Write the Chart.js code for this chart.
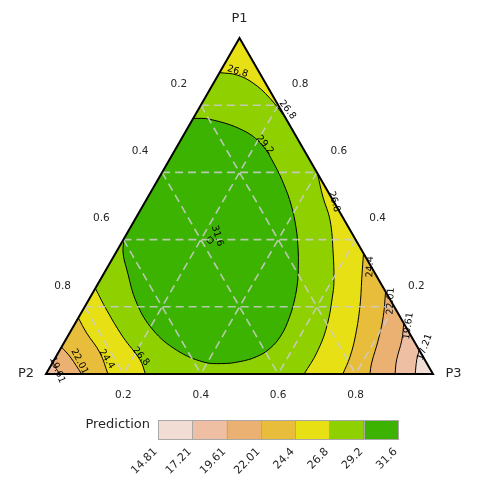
<!DOCTYPE html>
<html>
<head>
<meta charset="utf-8">
<script src="https://cdn.jsdelivr.net/npm/chart.js@4.4.1/dist/chart.umd.min.js"></script>
<style>
html,body{margin:0;padding:0;background:#ffffff;}
#box{position:relative;width:480px;height:480px;}
canvas{display:block;}
</style>
</head>
<body>
<div id="box"><canvas id="chart" width="480" height="480"></canvas></div>
<script>
// ---------------- data ----------------
const componentNames = ['P1', 'P2', 'P3'];
const levels = [14.81, 17.21, 19.61, 22.01, 24.4, 26.8, 29.2, 31.6];
const levelLabels = ['14.81', '17.21', '19.61', '22.01', '24.4', '26.8', '29.2', '31.6'];
const gridValues = [0.2, 0.4, 0.6, 0.8];
const tickLabels = ['0.2', '0.4', '0.6', '0.8'];
const colorbarTitle = 'Prediction';

// contour lines; each point is [P1, P3]  (P2 = 1 - P1 - P3)
const contour31_6 = [[0.409,0.220],[0.399,0.233],[0.389,0.229],[0.399,0.216],[0.409,0.220]];
const contour29_2 = [[0.761,0],[0.758,0.045],[0.725,0.147],[0.682,0.217],[0.625,0.277],[0.5625,0.334],[0.503,0.382],[0.4345,0.429],[0.369,0.467],[0.324,0.490],[0.274,0.513],[0.220,0.532],[0.167,0.545],[0.116,0.550],[0.077,0.541],[0.052,0.519],[0.037,0.483],[0.031,0.439],[0.036,0.388],[0.071,0.302],[0.131,0.211],[0.211,0.129],[0.310,0.054],[0.363,0.0175],[0.405,0]];
const contour26_8Top = [[0.897,0],[0.890,0.048],[0.866,0.102],[0.821,0.168],[0.761,0.239]];
const contour26_8Right = [[0.597,0.403],[0.527,0.452],[0.458,0.505],[0.360,0.562],[0.280,0.604],[0.241,0.621],[0.141,0.655],[0.063,0.668],[0,0.667]];
const contour26_8Left = [[0.255,0],[0.190,0.062],[0.110,0.144],[0.042,0.222],[0,0.257]];
const contour24_4Right = [[0.359,0.641],[0.295,0.669],[0.205,0.709],[0.116,0.742],[0.051,0.760],[0,0.767]];
const contour24_4Left = [[0.167,0],[0.122,0.044],[0.063,0.108],[0,0.160]];
const contour22_01Right = [[0.245,0.755],[0.171,0.786],[0.101,0.808],[0.033,0.825],[0,0.837]];
const contour22_01Left = [[0.080,0],[0.051,0.037],[0,0.092]];
const contour19_61Right = [[0.151,0.849],[0.101,0.869],[0.042,0.885],[0,0.902]];
const contour19_61Left = [[0.036,0],[0.016,0.018],[0,0.036]];
const contour17_21Right = [[0.071,0.929],[0.042,0.937],[0,0.954]];

// ---------------- styles / placement ----------------
const binColors = ['#f2ddd5', '#eebfa3', '#ebb173', '#e8bd3c', '#e6e015', '#8fd000', '#3cb300'];
const contourLabels = [
  {text: '26.8', at: [0.900, 0.045], rot: 17},
  {text: '26.8', at: [0.786, 0.231], rot: 52},
  {text: '29.2', at: [0.682, 0.225], rot: 50},
  {text: '26.8', at: [0.513, 0.488], rot: 73},
  {text: '31.6', at: [0.411, 0.237], rot: 72},
  {text: '24.4', at: [0.319, 0.678], rot: -88},
  {text: '22.01', at: [0.217, 0.782], rot: -87},
  {text: '19.61', at: [0.143, 0.865], rot: -82},
  {text: '17.21', at: [0.080, 0.939], rot: -70},
  {text: '26.8', at: [0.052, 0.219], rot: 50},
  {text: '24.4', at: [0.044, 0.135], rot: 58},
  {text: '22.01', at: [0.037, 0.068], rot: 62},
  {text: '19.61', at: [0.012, 0.023], rot: 68}
];
// helper points far outside the triangle (only used to close corner regions; clipped away)
const OUTSIDE = {apex: [1.4, -0.2], p2: [-0.2, -0.2], p3: [-0.2, 1.4], left: [0.58, -0.3]};

const toPt = ([p1, p3]) => ({x: p3 + p1 / 2, y: p1});
// helper just beyond a contour's end, continuing its direction (lies outside the triangle)
function beyondEnd(points) {
  const n = points.length, a = points[n - 1], b = points[n - 2];
  return [a[0] + 2 * (a[0] - b[0]), a[1] + 2 * (a[1] - b[1])];
}

const fillRegions = [
  {pts: [[1, 0], [0, 0], [0, 1]], color: binColors[5], border: 0, tension: 0},
  {pts: contour29_2, out: OUTSIDE.left, color: binColors[6]},
  {pts: contour31_6, color: binColors[6]},
  {pts: contour26_8Top, out: OUTSIDE.apex, color: binColors[4]},
  {pts: contour26_8Right, out: OUTSIDE.p3, color: binColors[4]},
  {pts: contour26_8Left, out: OUTSIDE.p2, color: binColors[4]},
  {pts: contour24_4Right, out: OUTSIDE.p3, color: binColors[3]},
  {pts: contour24_4Left, out: OUTSIDE.p2, color: binColors[3]},
  {pts: contour22_01Right, out: OUTSIDE.p3, color: binColors[2]},
  {pts: contour22_01Left, out: OUTSIDE.p2, color: binColors[2]},
  {pts: contour19_61Right, out: OUTSIDE.p3, color: binColors[1]},
  {pts: contour19_61Left, out: OUTSIDE.p2, color: binColors[1]},
  {pts: contour17_21Right, out: OUTSIDE.p3, color: binColors[0]}
];

const datasets = fillRegions.map(r => {
  const pts = r.out ? r.pts.concat([beyondEnd(r.pts), r.out]) : r.pts;
  return {
    data: pts.map(toPt),
    showLine: true,
    fill: 'shape',
    backgroundColor: r.color,
    borderColor: '#000000',
    borderWidth: r.border === undefined ? 1 : r.border,
    tension: r.tension === undefined ? 0.4 : r.tension,
    capBezierPoints: false,
    pointRadius: 0,
    pointHoverRadius: 0
  };
});

const gridPts = [];
gridValues.forEach(v => {
  gridPts.push(toPt([v, 0]), toPt([v, 1 - v]), {x: null, y: null});
  gridPts.push(toPt([1 - v, 0]), toPt([0, 1 - v]), {x: null, y: null});
  gridPts.push(toPt([1 - v, v]), toPt([0, v]), {x: null, y: null});
});
datasets.push({
  data: gridPts, showLine: true, fill: false, spanGaps: false,
  borderColor: 'rgba(205,205,205,0.85)', borderWidth: 1.6, borderDash: [8, 5],
  tension: 0, pointRadius: 0, pointHoverRadius: 0
});
datasets.push({
  data: [[0, 0.5], [0, 1], [1, 0], [0, 0], [0, 0.5]].map(toPt),
  showLine: true, fill: false, borderColor: '#000000', borderWidth: 2,
  borderJoinStyle: 'miter', tension: 0, pointRadius: 0, pointHoverRadius: 0,
  clip: false, unclipped: true
});
datasets.forEach((d, i) => { d.order = datasets.length - i; });

function pix(chart, p1, p3) {
  return [chart.scales.x.getPixelForValue(p3 + p1 / 2), chart.scales.y.getPixelForValue(p1)];
}
function drawText(ctx, text, x, y, size, rotDeg, align, baseline, color) {
  ctx.save();
  ctx.translate(x, y);
  if (rotDeg) ctx.rotate(rotDeg * Math.PI / 180);
  ctx.font = size + 'px "DejaVu Sans"';
  ctx.fillStyle = color || '#262626';
  ctx.textAlign = align || 'center';
  ctx.textBaseline = baseline || 'middle';
  ctx.fillText(text, 0, 0);
  ctx.restore();
}

const ternaryPlugin = {
  id: 'ternaryPlugin',
  beforeDatasetsDraw(chart) {
    const ctx = chart.ctx;
    ctx.save();
    ctx.beginPath();
    [[1, 0], [0, 0], [0, 1]].forEach(([p1, p3], i) => {
      const [x, y] = pix(chart, p1, p3);
      if (i === 0) ctx.moveTo(x, y); else ctx.lineTo(x, y);
    });
    ctx.closePath();
    ctx.clip();
    chart.$triClip = true;
  },
  beforeDatasetDraw(chart, args) {
    const ds = chart.data.datasets[args.index];
    if (ds.unclipped && chart.$triClip) { chart.ctx.restore(); chart.$triClip = false; }
  },
  afterDatasetsDraw(chart) {
    const ctx = chart.ctx;
    if (chart.$triClip) { ctx.restore(); chart.$triClip = false; }

    // contour labels
    contourLabels.forEach(l => {
      const [x, y] = pix(chart, l.at[0], l.at[1]);
      drawText(ctx, l.text, x, y, 9.5, l.rot, 'center', 'middle', '#000000');
    });

    // axis tick labels
    gridValues.forEach((v, i) => {
      let [x, y] = pix(chart, 1 - v, 0);            // P2 along the left edge
      drawText(ctx, tickLabels[i], x - 22, y - 21, 10.5);
      [x, y] = pix(chart, v, 1 - v);                 // P1 along the right edge
      drawText(ctx, tickLabels[i], x + 22, y - 21, 10.5);
      [x, y] = pix(chart, 0, v);                     // P3 along the bottom edge
      drawText(ctx, tickLabels[i], x, y + 21, 10.5);
    });

    // component titles
    let [ax, ay] = pix(chart, 1, 0);
    drawText(ctx, componentNames[0], ax, ay - 19, 13);
    [ax, ay] = pix(chart, 0, 0);
    drawText(ctx, componentNames[1], ax - 20, ay, 13);
    [ax, ay] = pix(chart, 0, 1);
    drawText(ctx, componentNames[2], ax + 20.5, ay, 13);

    // colour bar
    const cb = {x0: 158, x1: 398, y0: 420, y1: 439};
    const w = (cb.x1 - cb.x0) / binColors.length;
    binColors.forEach((c, i) => {
      ctx.fillStyle = c;
      ctx.fillRect(cb.x0 + i * w, cb.y0, w + 0.5, cb.y1 - cb.y0);
    });
    ctx.save();
    ctx.strokeStyle = '#a8a8a8';
    ctx.lineWidth = 1;
    for (let i = 1; i < binColors.length; i++) {
      const x = Math.round(cb.x0 + i * w) + 0.5;
      ctx.beginPath(); ctx.moveTo(x, cb.y0); ctx.lineTo(x, cb.y1); ctx.stroke();
    }
    ctx.strokeRect(cb.x0 + 0.5, cb.y0 + 0.5, cb.x1 - cb.x0, cb.y1 - cb.y0);
    ctx.restore();
    drawText(ctx, colorbarTitle, 150, 425, 13, 0, 'right', 'middle');
    levelLabels.forEach((t, i) => {
      drawText(ctx, t, cb.x0 + i * w + 1.5, 454, 11, -45, 'right', 'bottom');
    });
  }
};

new Chart(document.getElementById('chart'), {
  type: 'scatter',
  data: {datasets},
  options: {
    responsive: false,
    animation: false,
    devicePixelRatio: 1,
    events: [],
    layout: {padding: {left: 46, right: 47, top: 38, bottom: 106}},
    scales: {
      x: {type: 'linear', min: 0, max: 1, display: false},
      y: {type: 'linear', min: 0, max: 1, display: false}
    },
    plugins: {legend: {display: false}, tooltip: {enabled: false}}
  },
  plugins: [ternaryPlugin]
});
</script>
</body>
</html>
